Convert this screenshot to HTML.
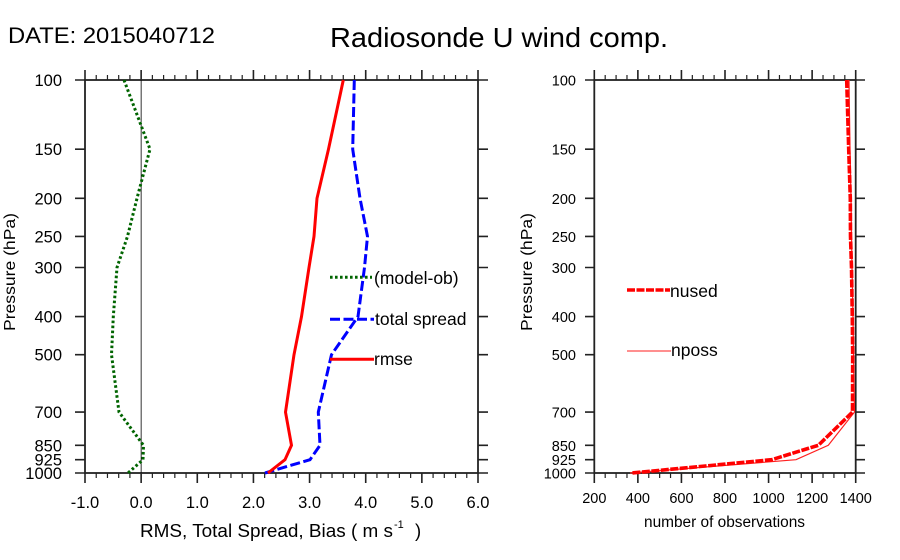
<!DOCTYPE html>
<html><head><meta charset="utf-8"><style>
html,body{margin:0;padding:0;background:#fff;}
svg{display:block;}
text{font-family:"Liberation Sans",Arial,sans-serif;fill:#000;}
</style></head><body>
<svg width="900" height="560" viewBox="0 0 900 560" xmlns="http://www.w3.org/2000/svg">
<rect width="900" height="560" fill="#fff"/>
<text x="8" y="43" font-size="22" textLength="207" lengthAdjust="spacingAndGlyphs">DATE: 2015040712</text>
<text x="330" y="47" font-size="28" textLength="338" lengthAdjust="spacingAndGlyphs">Radiosonde U wind comp.</text>

<!-- LEFT PLOT -->
<g stroke="#222" fill="none" stroke-width="1.2">
<path d="M96.23 80V75M107.46 80V75M118.69 80V75M129.91 80V75M152.37 80V75M163.6 80V75M174.83 80V75M186.06 80V75M208.51 80V75M219.74 80V75M230.97 80V75M242.2 80V75M264.66 80V75M275.89 80V75M287.11 80V75M298.34 80V75M320.8 80V75M332.03 80V75M343.26 80V75M354.49 80V75M376.94 80V75M388.17 80V75M399.4 80V75M410.63 80V75M433.09 80V75M444.31 80V75M455.54 80V75M466.77 80V75"/>
<path d="M96.23 473V478M107.46 473V478M118.69 473V478M129.91 473V478M152.37 473V478M163.6 473V478M174.83 473V478M186.06 473V478M208.51 473V478M219.74 473V478M230.97 473V478M242.2 473V478M264.66 473V478M275.89 473V478M287.11 473V478M298.34 473V478M320.8 473V478M332.03 473V478M343.26 473V478M354.49 473V478M376.94 473V478M388.17 473V478M399.4 473V478M410.63 473V478M433.09 473V478M444.31 473V478M455.54 473V478M466.77 473V478"/>
</g>
<g stroke="#222" fill="none" stroke-width="1.6">
<path d="M85 80V70M141.14 80V70M197.29 80V70M253.43 80V70M309.57 80V70M365.71 80V70M421.86 80V70M478 80V70"/>
<path d="M85 473V483M141.14 473V483M197.29 473V483M253.43 473V483M309.57 473V483M365.71 473V483M421.86 473V483M478 473V483"/>
<path d="M85 80H75M85 149.2H75M85 198.3H75M85 236.4H75M85 267.5H75M85 316.6H75M85 354.7H75M85 412.1H75M85 445.3H75M85 459.7H75M85 473H75"/>
<path d="M478 80H488M478 149.2H488M478 198.3H488M478 236.4H488M478 267.5H488M478 316.6H488M478 354.7H488M478 412.1H488M478 445.3H488M478 459.7H488M478 473H488"/>
<rect x="85" y="80" width="393" height="393" stroke-width="1.8"/>
</g>
<line x1="141.14" y1="80" x2="141.14" y2="473" stroke="#000" stroke-width="0.8"/>

<g font-size="16.5" text-anchor="end">
<text x="62" y="86">100</text><text x="62" y="155.2">150</text><text x="62" y="204.3">200</text><text x="62" y="242.4">250</text><text x="62" y="273.5">300</text><text x="62" y="322.6">400</text><text x="62" y="360.7">500</text><text x="62" y="418.1">700</text><text x="62" y="451.3">850</text><text x="62" y="465.7">925</text><text x="62" y="479">1000</text>
</g>
<g font-size="16.5" text-anchor="middle">
<text x="85" y="508">-1.0</text><text x="141.14" y="508">0.0</text><text x="197.29" y="508">1.0</text><text x="253.43" y="508">2.0</text><text x="309.57" y="508">3.0</text><text x="365.71" y="508">4.0</text><text x="421.86" y="508">5.0</text><text x="478" y="508">6.0</text>
</g>
<text x="140" y="537" font-size="18.5" textLength="253" lengthAdjust="spacingAndGlyphs">RMS, Total Spread, Bias ( m s</text>
<text x="394" y="528" font-size="11">-1</text>
<text x="415" y="537" font-size="18.5">)</text>
<text transform="translate(15,272) rotate(-90)" font-size="16" text-anchor="middle" textLength="118" lengthAdjust="spacingAndGlyphs">Pressure (hPa)</text>

<!-- series left -->
<polyline fill="none" stroke="#006400" stroke-width="3" stroke-dasharray="2.6 2.4" points="124,80 150,149.2 137,198.3 127.5,236.4 117,267.5 113.3,316.6 111.5,354.7 119,412.1 143.5,445.3 143,459.7 128,473"/>
<polyline fill="none" stroke="#0000ff" stroke-width="3" stroke-dasharray="10 3.5" points="354.3,80 352.7,149.2 360,198.3 367.5,236.4 364.5,267.5 358,316.6 331.5,354.7 318.3,412.1 320,445.3 310,459.7 265,473"/>
<polyline fill="none" stroke="#ff0000" stroke-width="3" points="343.3,80 328.5,149.2 317,198.3 314,236.4 309,267.5 301.5,316.6 294,354.7 285.5,412.1 291.5,445.3 285,459.7 268,473"/>

<!-- legend left -->
<line x1="330" y1="277.3" x2="372" y2="277.3" stroke="#006400" stroke-width="3" stroke-dasharray="2.6 2.4"/>
<line x1="330" y1="319.3" x2="374" y2="319.3" stroke="#0000ff" stroke-width="3" stroke-dasharray="10 3.5"/>
<line x1="330" y1="359.3" x2="374" y2="359.3" stroke="#ff0000" stroke-width="3"/>
<g font-size="17.5">
<text x="374" y="284">(model-ob)</text>
<text x="375" y="325">total spread</text>
<text x="374" y="365">rmse</text>
</g>

<!-- RIGHT PLOT -->
<g stroke="#222" fill="none" stroke-width="1.2">
<path d="M605.19 80V75M616.08 80V75M626.98 80V75M648.76 80V75M659.65 80V75M670.54 80V75M692.33 80V75M703.22 80V75M714.11 80V75M735.89 80V75M746.78 80V75M757.68 80V75M779.46 80V75M790.35 80V75M801.24 80V75M823.03 80V75M833.92 80V75M844.81 80V75"/>
<path d="M605.19 473V478M616.08 473V478M626.98 473V478M648.76 473V478M659.65 473V478M670.54 473V478M692.33 473V478M703.22 473V478M714.11 473V478M735.89 473V478M746.78 473V478M757.68 473V478M779.46 473V478M790.35 473V478M801.24 473V478M823.03 473V478M833.92 473V478M844.81 473V478"/>
</g>
<g stroke="#222" fill="none" stroke-width="1.6">
<path d="M594.3 80V70M637.87 80V70M681.43 80V70M725 80V70M768.57 80V70M812.13 80V70M855.7 80V70"/>
<path d="M594.3 473V483M637.87 473V483M681.43 473V483M725 473V483M768.57 473V483M812.13 473V483M855.7 473V483"/>
<path d="M594.3 80H585M594.3 149.2H585M594.3 198.3H585M594.3 236.4H585M594.3 267.5H585M594.3 316.6H585M594.3 354.7H585M594.3 412.1H585M594.3 445.3H585M594.3 459.7H585M594.3 473H585"/>
<path d="M855.7 80H865M855.7 149.2H865M855.7 198.3H865M855.7 236.4H865M855.7 267.5H865M855.7 316.6H865M855.7 354.7H865M855.7 412.1H865M855.7 445.3H865M855.7 459.7H865M855.7 473H865"/>
<rect x="594.3" y="80" width="261.4" height="393" stroke-width="1.8"/>
</g>
<g font-size="14.5" text-anchor="end">
<text x="576" y="85.5">100</text><text x="576" y="154.7">150</text><text x="576" y="203.8">200</text><text x="576" y="241.9">250</text><text x="576" y="273">300</text><text x="576" y="322.1">400</text><text x="576" y="360.2">500</text><text x="576" y="417.6">700</text><text x="576" y="450.8">850</text><text x="576" y="465.2">925</text><text x="576" y="478.5">1000</text>
</g>
<g font-size="14.5" text-anchor="middle">
<text x="594.3" y="503">200</text><text x="637.87" y="503">400</text><text x="681.43" y="503">600</text><text x="725" y="503">800</text><text x="768.57" y="503">1000</text><text x="812.13" y="503">1200</text><text x="855.7" y="503">1400</text>
</g>
<text x="644" y="527" font-size="15.4" textLength="161" lengthAdjust="spacingAndGlyphs">number of observations</text>
<text transform="translate(532,272) rotate(-90)" font-size="16" text-anchor="middle" textLength="118" lengthAdjust="spacingAndGlyphs">Pressure (hPa)</text>

<polyline fill="none" stroke="#ff2020" stroke-width="1.2" points="849,80 850,149.2 851,198.3 851.5,236.4 852,267.5 853,316.6 853.5,354.7 854.5,412.1 828.3,445.3 796,459.7 630,473"/>
<polyline fill="none" stroke="#ff0000" stroke-width="3.6" stroke-dasharray="8 1.5" points="846.7,80 848.7,149.2 850.3,198.3 850.5,236.4 851.5,267.5 852.3,316.6 852.7,354.7 852.5,412.1 818.3,445.3 771.7,459.7 631.7,473"/>

<line x1="627" y1="290" x2="670" y2="290" stroke="#ff0000" stroke-width="3.6" stroke-dasharray="8 1.5"/>
<line x1="627" y1="351" x2="671" y2="351" stroke="#ff6a6a" stroke-width="1.4"/>
<g font-size="17.5">
<text x="670" y="297">nused</text>
<text x="671" y="356">nposs</text>
</g>
</svg>
</body></html>
